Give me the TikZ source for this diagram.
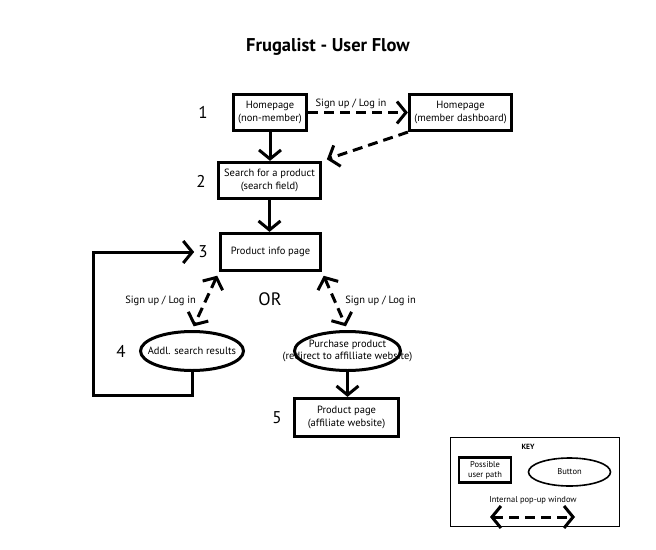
\documentclass[tikz,border=0pt]{standalone}
\usepackage{fontspec}
\setmainfont{PT Sans}
\usetikzlibrary{arrows.meta,shapes.geometric}

\begin{document}
\begin{tikzpicture}
  [x=1pt,y=-1pt,
   every node/.style={font=\fontsize{10.5}{12.5}\selectfont,align=center,inner sep=0pt},
   pathbox/.style={draw,rectangle,line width=3.2pt},
   btn/.style={draw,ellipse,line width=3pt},
   num/.style={font=\fontsize{17}{20}\selectfont},
   keytext/.style={font=\fontsize{8.5}{10}\selectfont},
   flow/.style={line width=3pt,-{Straight Barb[length=9pt,width=22pt]}},
   popup/.style={line width=3pt,dash pattern=on 10pt off 6pt,-{Straight Barb[length=9pt,width=22pt]}},
   popboth/.style={popup,{Straight Barb[length=9pt,width=22pt]}-{Straight Barb[length=9pt,width=22pt]}}]
  \useasboundingbox (0,0) rectangle (656,549);

  \node[font=\fontsize{18.5}{21}\bfseries] (ntitle) at (328,47) {Frugalist - User Flow};

  \node[pathbox,minimum width=73pt,minimum height=36pt] (nhome) at (270,112.5) {Homepage\\(non-member)};
  \node[pathbox,minimum width=102pt,minimum height=36pt] (ndash) at (460.5,112.5) {Homepage\\(member dashboard)};
  \node[pathbox,minimum width=102pt,minimum height=36pt] (nsearch) at (269.5,180.5) {Search for a product\\(search field)};
  \node[pathbox,minimum width=100pt,minimum height=37pt] (ninfo) at (270.5,252) {Product info page};
  \node[btn,minimum width=103pt,minimum height=39pt] (nmore) at (192,351) {\makebox[0pt]{Addl. search results}};
  \node[btn,minimum width=106pt,minimum height=39pt] (nbuy) at (347.5,351)
    {\makebox[0pt]{Purchase product}\\\makebox[0pt]{(redirect to affilliate website)}};
  \node[pathbox,minimum width=104pt,minimum height=38pt] (npage) at (346.5,417.5) {Product page\\(affiliate website)};

  \node[num] (none) at (203,112) {1};
  \node[num] (ntwo) at (201,181) {2};
  \node[num] (nthree) at (203,252) {3};
  \node[num] (nfour) at (121,351) {4};
  \node[num] (nfive) at (277,418) {5};
  \node[font=\fontsize{18}{20}\selectfont] (nor) at (270,299) {OR};

  \draw[flow] (nhome.south) -- (nhome.south |- nsearch.north);
  \draw[flow] (nsearch.south) -- (nsearch.south |- ninfo.north);
  \draw[flow] (nbuy.south) -- (nbuy.south |- npage.north);
  \draw[popup] (nhome.east) -- (ndash.west) node[midway,above=2pt,xshift=-7pt] {Sign up / Log in};
  \draw[popup,shorten >=5pt] (ndash.south west) -- (nsearch.north east);
  \draw[popboth,shorten <=4pt,shorten >=4pt] (ninfo.south west) -- (nmore.north)
    node[midway,left=8pt] {Sign up / Log in};
  \draw[popboth,shorten <=4pt,shorten >=4pt] (ninfo.south east) -- (nbuy.north)
    node[midway,right=9pt] {Sign up / Log in};

  \coordinate (cloop) at (93,395);
  \draw[flow,shorten >=4pt] (nmore.south) |- (cloop) |- (nthree.west);

  % key
  \node[draw,line width=.9pt,minimum width=169pt,minimum height=89pt] (nkey) at (535,482) {};
  \node[font=\fontsize{7.5}{9}\bfseries] (nkeyt) at (528,447) {KEY};
  \node[pathbox,keytext,line width=2.2pt,minimum width=52pt,minimum height=25pt] (nkpath) at (485,470) {Possible\\user path};
  \node[btn,keytext,line width=1.6pt,minimum width=82pt,minimum height=28pt] (nkbtn) at (569.5,472) {Button};
  \node[keytext] (nkpop) at (533,500) {Internal pop-up window};
  \coordinate (ckl) at (490,517);
  \coordinate (ckr) at (575,517);
  \draw[popboth] (ckl) -- (ckr);
\end{tikzpicture}
\end{document}
